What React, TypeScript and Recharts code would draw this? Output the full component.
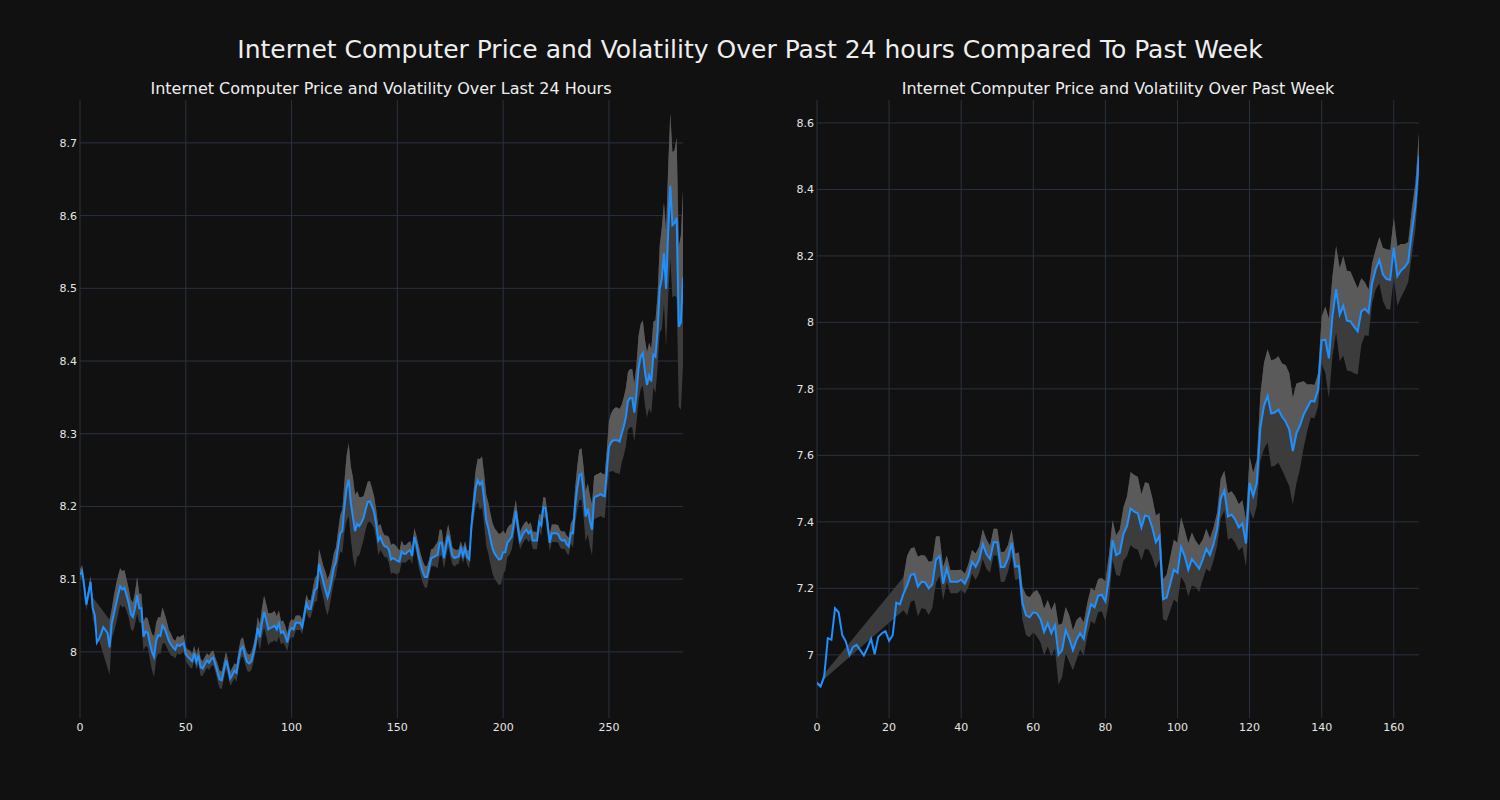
import { ComposedChart, Area, Line, XAxis, YAxis, CartesianGrid } from 'recharts';

// last 24 hours, one reading per ~5 minutes
const dayPrice = [
  8.106, 8.111, 8.09, 8.065, 8.08, 8.096, 8.06, 8.05, 8.013, 8.018,
  8.025, 8.034, 8.03, 8.026, 8.006, 8.039, 8.052, 8.065, 8.078, 8.09,
  8.086, 8.088, 8.078, 8.067, 8.052, 8.048, 8.06, 8.078, 8.06, 8.06,
  8.021, 8.028, 8.026, 8.012, 8.0, 7.993, 8.015, 8.023, 8.022, 8.036,
  8.032, 8.024, 8.015, 8.01, 8.006, 8.003, 8.01, 8.008, 8.01, 8.012,
  7.997, 7.993, 7.99, 7.987, 7.998, 7.986, 7.995, 7.979, 7.977, 7.983,
  7.988, 7.985, 7.99, 7.992, 7.982, 7.972, 7.962, 7.961, 7.975, 7.988,
  7.978, 7.963, 7.968, 7.974, 7.971, 7.99, 8.004, 8.007, 7.995, 7.986,
  7.984, 7.987, 7.998, 8.012, 8.033, 8.02, 8.04, 8.055, 8.044, 8.031,
  8.033, 8.034, 8.036, 8.031, 8.039, 8.026, 8.028, 8.022, 8.013, 8.028,
  8.033, 8.031, 8.04, 8.04, 8.04, 8.034, 8.05, 8.067, 8.059, 8.059,
  8.072, 8.085, 8.088, 8.121, 8.108, 8.096, 8.085, 8.075, 8.085, 8.1,
  8.116, 8.124, 8.145, 8.163, 8.166, 8.2, 8.225, 8.237, 8.205, 8.185,
  8.166, 8.176, 8.173, 8.178, 8.184, 8.196, 8.206, 8.207, 8.2, 8.192,
  8.175, 8.153, 8.158, 8.15, 8.145, 8.145, 8.14, 8.127, 8.129, 8.127,
  8.125, 8.124, 8.138, 8.135, 8.135, 8.138, 8.14, 8.132, 8.158, 8.148,
  8.132, 8.12, 8.11, 8.103, 8.103, 8.115, 8.129, 8.13, 8.132, 8.133,
  8.15, 8.15, 8.129, 8.145, 8.16, 8.146, 8.132, 8.129, 8.13, 8.131,
  8.142, 8.132, 8.142, 8.13, 8.127, 8.173, 8.2, 8.225, 8.236, 8.23,
  8.234, 8.21, 8.181, 8.17, 8.155, 8.142, 8.135, 8.131, 8.127, 8.128,
  8.137, 8.137, 8.15, 8.154, 8.158, 8.175, 8.194, 8.17, 8.153, 8.16,
  8.165, 8.168, 8.163, 8.166, 8.153, 8.153, 8.153, 8.178, 8.174, 8.199,
  8.198, 8.175, 8.15, 8.163, 8.163, 8.163, 8.162, 8.155, 8.153, 8.154,
  8.148, 8.145, 8.163, 8.163, 8.2, 8.225, 8.243, 8.245, 8.22, 8.186,
  8.197, 8.18, 8.168, 8.212, 8.214, 8.215, 8.217, 8.215, 8.214, 8.248,
  8.282, 8.288, 8.291, 8.291, 8.291, 8.289, 8.3, 8.31, 8.323, 8.345,
  8.349, 8.349, 8.329, 8.355, 8.39, 8.406, 8.411, 8.385, 8.367, 8.38,
  8.372, 8.409, 8.406, 8.442, 8.499, 8.514, 8.548, 8.499, 8.577, 8.641,
  8.587, 8.59, 8.597, 8.447, 8.453, 8.515,
];

// half width of the volatility band (null = gap in the band)
const dayVol = [
  0.008, 0.008, 0.008, 0.008, 0.008, 0.008, 0.015, null, null, null,
  null, null, null, null, 0.038, 0.02, 0.025, 0.027, 0.027, 0.025,
  0.025, 0.025, 0.022, 0.02, 0.02, 0.02, 0.022, 0.025, 0.02, 0.02,
  0.02, 0.02, 0.02, 0.022, 0.025, 0.028, 0.025, 0.025, 0.025, 0.025,
  0.02, 0.018, 0.015, 0.015, 0.012, 0.012, 0.012, 0.012, 0.012, 0.012,
  0.01, 0.01, 0.012, 0.01, 0.01, 0.01, 0.012, 0.012, 0.01, 0.01,
  0.01, 0.01, 0.01, 0.01, 0.01, 0.012, 0.012, 0.012, 0.012, 0.012,
  0.01, 0.01, 0.01, 0.01, 0.012, 0.013, 0.013, 0.013, 0.012, 0.012,
  0.012, 0.012, 0.012, 0.012, 0.015, 0.018, 0.02, 0.022, 0.022, 0.022,
  0.02, 0.02, 0.02, 0.018, 0.018, 0.016, 0.015, 0.014, 0.012, 0.012,
  0.012, 0.012, 0.01, 0.01, 0.01, 0.01, 0.01, 0.012, 0.012, 0.012,
  0.014, 0.016, 0.018, 0.02, 0.022, 0.022, 0.025, 0.025, 0.022, 0.02,
  0.02, 0.02, 0.022, 0.025, 0.03, 0.035, 0.045, 0.05, 0.05, 0.055,
  0.05, 0.045, 0.04, 0.035, 0.03, 0.028, 0.028, 0.028, 0.025, 0.022,
  0.02, 0.02, 0.018, 0.015, 0.015, 0.015, 0.018, 0.02, 0.02, 0.02,
  0.018, 0.015, 0.015, 0.012, 0.012, 0.012, 0.012, 0.012, 0.012, 0.012,
  0.015, 0.015, 0.015, 0.015, 0.015, 0.012, 0.012, 0.012, 0.015, 0.018,
  0.018, 0.018, 0.015, 0.015, 0.015, 0.015, 0.012, 0.012, 0.01, 0.01,
  0.01, 0.01, 0.01, 0.01, 0.012, 0.015, 0.02, 0.025, 0.03, 0.035,
  0.035, 0.035, 0.035, 0.035, 0.035, 0.035, 0.035, 0.035, 0.035, 0.035,
  0.03, 0.025, 0.02, 0.02, 0.018, 0.018, 0.015, 0.015, 0.012, 0.012,
  0.012, 0.012, 0.012, 0.012, 0.012, 0.012, 0.012, 0.012, 0.014, 0.014,
  0.014, 0.014, 0.012, 0.012, 0.012, 0.012, 0.012, 0.012, 0.012, 0.012,
  0.012, 0.012, 0.014, 0.02, 0.025, 0.03, 0.035, 0.035, 0.035, 0.035,
  0.035, 0.035, 0.035, 0.03, 0.03, 0.03, 0.03, 0.03, 0.03, 0.03,
  0.035, 0.04, 0.042, 0.045, 0.045, 0.045, 0.04, 0.04, 0.04, 0.04,
  0.04, 0.04, 0.04, 0.04, 0.045, 0.045, 0.045, 0.045, 0.045, 0.045,
  0.045, 0.045, 0.05, 0.05, 0.06, 0.07, 0.07, 0.08, 0.09, 0.1,
  0.1, 0.1, 0.11, 0.11, 0.12, 0.12,
];

// past week, hourly
const weekPrice = [
  6.915, 6.905, 6.935, 7.05, 7.045, 7.14, 7.128, 7.06, 7.04, 7.0,
  7.024, 7.03, 7.014, 6.998, 7.021, 7.048, 7.002, 7.054, 7.065, 7.071,
  7.042, 7.059, 7.157, 7.152, 7.184, 7.208, 7.24, 7.244, 7.205, 7.22,
  7.218, 7.2, 7.212, 7.286, 7.297, 7.214, 7.259, 7.22, 7.22, 7.22,
  7.226, 7.214, 7.238, 7.28, 7.265, 7.286, 7.333, 7.303, 7.288, 7.339,
  7.339, 7.264, 7.265, 7.291, 7.337, 7.265, 7.268, 7.155, 7.119, 7.113,
  7.128, 7.125, 7.107, 7.069, 7.095, 7.065, 7.089, 7.0, 7.014, 7.074,
  7.048, 7.014, 7.045, 7.065, 7.048, 7.107, 7.152, 7.143, 7.178, 7.181,
  7.161, 7.232, 7.345, 7.3, 7.307, 7.363, 7.387, 7.44, 7.431, 7.426,
  7.383, 7.419, 7.416, 7.383, 7.339, 7.357, 7.167, 7.172, 7.214, 7.256,
  7.247, 7.324, 7.297, 7.256, 7.288, 7.274, 7.259, 7.286, 7.319, 7.3,
  7.333, 7.378, 7.47, 7.494, 7.416, 7.422, 7.407, 7.383, 7.395, 7.335,
  7.517, 7.478, 7.517, 7.684, 7.749, 7.779, 7.726, 7.729, 7.738, 7.716,
  7.702, 7.678, 7.613, 7.666, 7.69, 7.723, 7.743, 7.764, 7.762, 7.797,
  7.946, 7.948, 7.892, 8.02, 8.1, 8.023, 8.05, 8.005, 8.003, 7.987,
  7.973, 8.033, 8.041, 8.029, 8.118, 8.16, 8.187, 8.144, 8.13, 8.128,
  8.225, 8.139, 8.156, 8.166, 8.181, 8.27, 8.35, 8.5,
];

const weekVol = [
  0.005, 0.005, 0.008, null, null, null, null, null, null, null,
  null, null, null, null, null, null, null, null, null, null,
  null, null, null, null, 0.05, 0.09, 0.08, 0.08, 0.09, 0.08,
  0.08, 0.08, 0.07, 0.07, 0.06, 0.05, 0.04, 0.035, 0.035, 0.035,
  0.03, 0.03, 0.035, 0.035, 0.04, 0.04, 0.045, 0.045, 0.04, 0.04,
  0.04, 0.045, 0.045, 0.04, 0.04, 0.04, 0.04, 0.05, 0.06, 0.06,
  0.06, 0.07, 0.07, 0.07, 0.07, 0.07, 0.07, 0.09, 0.08, 0.07,
  0.07, 0.06, 0.06, 0.05, 0.05, 0.05, 0.05, 0.05, 0.05, 0.05,
  0.06, 0.07, 0.06, 0.06, 0.07, 0.08, 0.09, 0.11, 0.11, 0.11,
  0.1, 0.1, 0.1, 0.09, 0.08, 0.07, 0.06, 0.07, 0.08, 0.09,
  0.09, 0.09, 0.08, 0.08, 0.08, 0.07, 0.07, 0.06, 0.06, 0.05,
  0.05, 0.05, 0.06, 0.06, 0.07, 0.07, 0.07, 0.07, 0.07, 0.07,
  0.08, 0.07, 0.07, 0.1, 0.13, 0.14, 0.16, 0.16, 0.16, 0.16,
  0.17, 0.17, 0.16, 0.15, 0.13, 0.1, 0.07, 0.05, 0.05, 0.05,
  0.07, 0.1, 0.12, 0.12, 0.13, 0.14, 0.15, 0.15, 0.15, 0.14,
  0.13, 0.1, 0.08, 0.07, 0.06, 0.06, 0.07, 0.08, 0.09, 0.09,
  0.09, 0.09, 0.08, 0.07, 0.06, 0.07, 0.07, 0.07,
];

const dayXTicks = [0, 50, 100, 150, 200, 250];
const dayYTicks = [8, 8.1, 8.2, 8.3, 8.4, 8.5, 8.6, 8.7];
const weekXTicks = [0, 20, 40, 60, 80, 100, 120, 140, 160];
const weekYTicks = [7, 7.2, 7.4, 7.6, 7.8, 8, 8.2, 8.4, 8.6];

const FONT = '"DejaVu Sans", sans-serif';

function buildRows(price: number[], vol: (number | null)[]) {
  return price.map((p, i) => {
    const v = vol[i];
    const ok = v != null;
    return {
      x: i,
      price: p,
      band: ok ? [p - (v as number), p + (v as number)] : [null, null],
      upper: ok ? [p, p + (v as number)] : [null, null],
    };
  });
}

const fmt = (v: number) => String(Number(v.toFixed(1)));

interface PanelProps {
  rows: ReturnType<typeof buildRows>;
  left: number;
  width: number;
  marginRight: number;
  xDomain: [number, number];
  xTicks: number[];
  yDomain: [number, number];
  yTicks: number[];
}

function Panel({ rows, left, width, marginRight, xDomain, xTicks, yDomain, yTicks }: PanelProps) {
  const tick = { fontSize: 11, fontFamily: FONT, fill: '#e6e6e6' };
  // grid lines only at the tick values (no frame round the plot)
  const hGen = ({ offset }: any) =>
    yTicks.map((t) => offset.top + (offset.height * (yDomain[1] - t)) / (yDomain[1] - yDomain[0]));
  const vGen = ({ offset }: any) =>
    xTicks.map((t) => offset.left + (offset.width * (t - xDomain[0])) / (xDomain[1] - xDomain[0]));
  return (
    <div style={{ position: 'absolute', left, top: 0, width, height: 800 }}>
      <ComposedChart width={width} height={800} data={rows} margin={{ top: 100, right: marginRight, bottom: 52, left: 0 }}>
        <CartesianGrid
          stroke="#2a3240"
          strokeWidth={1}
          horizontalCoordinatesGenerator={hGen}
          verticalCoordinatesGenerator={vGen}
        />
        <XAxis
          type="number"
          dataKey="x"
          domain={xDomain}
          ticks={xTicks}
          interval={0}
          allowDataOverflow
          axisLine={false}
          tickLine={false}
          tickSize={0}
          tickMargin={5}
          height={30}
          tick={tick}
        />
        <YAxis
          type="number"
          domain={yDomain}
          ticks={yTicks}
          interval={0}
          allowDataOverflow
          axisLine={false}
          tickLine={false}
          tickSize={0}
          tickMargin={3}
          width={80}
          tick={tick}
          tickFormatter={fmt}
        />
        <Area type="linear" dataKey="band" stroke="none" fill="#3c3c3c" fillOpacity={1} connectNulls isAnimationActive={false} />
        <Area type="linear" dataKey="upper" stroke="none" fill="#5a5a5a" fillOpacity={1} isAnimationActive={false} />
        <Line type="linear" dataKey="price" stroke="#1e90ff" strokeWidth={2} dot={false} isAnimationActive={false} />
      </ComposedChart>
    </div>
  );
}

export default function App() {
  const dayRows = buildRows(dayPrice, dayVol);
  const weekRows = buildRows(weekPrice, weekVol);
  const titleBase = { position: 'absolute' as const, fontFamily: FONT, color: '#eeeeee', whiteSpace: 'nowrap' as const, transform: 'translateX(-50%)', lineHeight: 1.15 };

  return (
    <div style={{ position: 'fixed', left: 0, top: 0, width: 1500, height: 800, background: '#111111', overflow: 'hidden' }}>
      <div style={{ ...titleBase, left: 750, top: 36, fontSize: 25 }}>
        Internet Computer Price and Volatility Over Past 24 hours Compared To Past Week
      </div>
      <div style={{ ...titleBase, left: 381, top: 80, fontSize: 16 }}>
        Internet Computer Price and Volatility Over Last 24 Hours
      </div>
      <div style={{ ...titleBase, left: 1118, top: 80, fontSize: 16 }}>
        Internet Computer Price and Volatility Over Past Week
      </div>
      <Panel rows={dayRows} left={0} width={760} marginRight={77} xDomain={[0, 285]} xTicks={dayXTicks} yDomain={[7.909, 8.759]} yTicks={dayYTicks} />
      <Panel rows={weekRows} left={737} width={763} marginRight={81} xDomain={[0, 167]} xTicks={weekXTicks} yDomain={[6.81, 8.669]} yTicks={weekYTicks} />
    </div>
  );
}
